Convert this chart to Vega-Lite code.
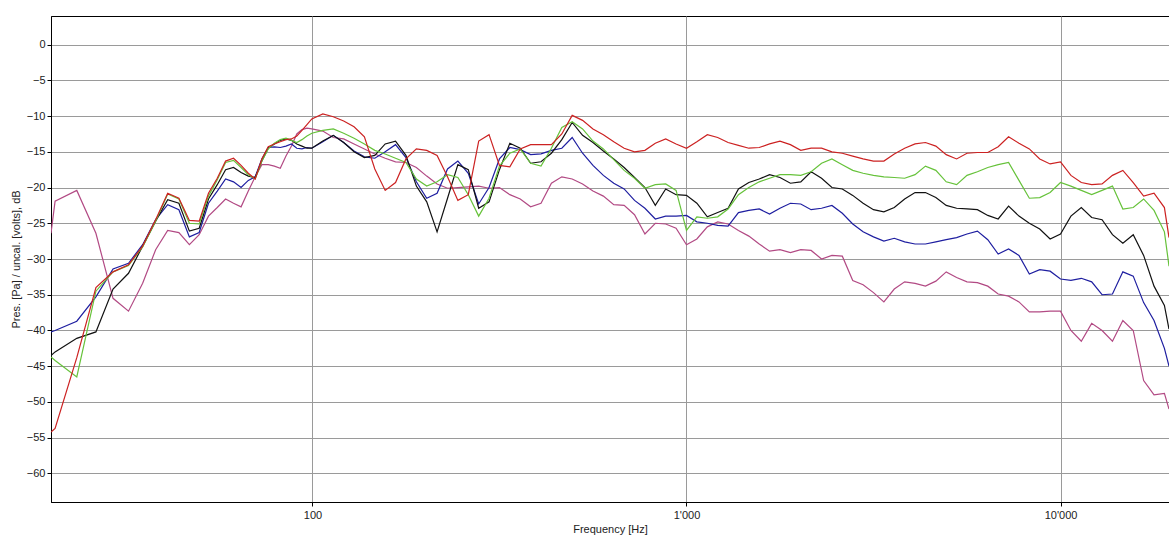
{
  "$schema": "https://vega.github.io/schema/vega-lite/v6.json",
  "width": 1118,
  "height": 486,
  "autosize": {"type": "none"},
  "padding": {"left": 51, "top": 16, "right": 0, "bottom": 37},
  "background": "#ffffff",
  "config": {
    "view": {"stroke": "#000000", "strokeWidth": 1},
    "font": "Liberation Sans"
  },
  "data": {
    "values": [
      {"f": 20, "red": -54.2, "green": -43.7, "black": -43.5, "blue": -40.2, "pink": -26.4},
      {"f": 20.51, "red": -53.7, "green": -44.2, "black": -43.0, "blue": -40.0, "pink": -21.9},
      {"f": 23.44, "red": -43.8, "green": -46.5, "black": -41.1, "blue": -38.7, "pink": -20.4},
      {"f": 26.37, "red": -34.0, "green": -34.5, "black": -40.2, "blue": -35.3, "pink": -26.4},
      {"f": 29.3, "red": -31.8, "green": -31.8, "black": -34.2, "blue": -31.4, "pink": -35.5},
      {"f": 32.23, "red": -30.8, "green": -30.9, "black": -32.0, "blue": -30.6, "pink": -37.3},
      {"f": 35.16, "red": -28.2, "green": -28.3, "black": -28.2, "blue": -28.0, "pink": -33.4},
      {"f": 38.09, "red": -24.5, "green": -24.7, "black": -24.7, "blue": -24.5, "pink": -28.7},
      {"f": 41.02, "red": -20.8, "green": -20.9, "black": -21.7, "blue": -22.4, "pink": -26.0},
      {"f": 43.95, "red": -21.5, "green": -21.6, "black": -22.2, "blue": -23.1, "pink": -26.3},
      {"f": 46.88, "red": -24.6, "green": -25.0, "black": -26.1, "blue": -26.9, "pink": -28.0},
      {"f": 49.8, "red": -24.7, "green": -25.1, "black": -25.7, "blue": -26.3, "pink": -26.6},
      {"f": 52.73, "red": -20.8, "green": -21.2, "black": -21.6, "blue": -22.2, "pink": -24.0},
      {"f": 55.66, "red": -18.7, "green": -18.9, "black": -19.6, "blue": -20.5, "pink": -22.8},
      {"f": 58.59, "red": -16.3, "green": -16.5, "black": -17.5, "blue": -18.8, "pink": -21.6},
      {"f": 61.52, "red": -15.9, "green": -16.2, "black": -17.2, "blue": -19.2, "pink": -22.2},
      {"f": 64.45, "red": -16.9, "green": -17.2, "black": -17.9, "blue": -20.0, "pink": -22.7},
      {"f": 67.38, "red": -18.0, "green": -18.2, "black": -18.4, "blue": -19.0, "pink": -20.5},
      {"f": 70.31, "red": -18.8, "green": -18.8, "black": -18.6, "blue": -18.5, "pink": -18.5},
      {"f": 73.24, "red": -16.0, "green": -16.3, "black": -16.3, "blue": -16.0, "pink": -16.8},
      {"f": 76.17, "red": -14.3, "green": -14.6, "black": -14.5, "blue": -14.4, "pink": -16.8},
      {"f": 79.1, "red": -13.9, "green": -13.8, "black": -13.9, "blue": -14.3, "pink": -17.0},
      {"f": 82.03, "red": -13.6, "green": -13.3, "black": -13.4, "blue": -14.4, "pink": -17.3},
      {"f": 84.96, "red": -13.3, "green": -13.1, "black": -13.2, "blue": -14.2, "pink": -15.6},
      {"f": 87.89, "red": -13.2, "green": -13.4, "black": -13.4, "blue": -13.9, "pink": -14.2},
      {"f": 90.82, "red": -12.8, "green": -13.7, "black": -13.9, "blue": -14.5, "pink": -12.5},
      {"f": 93.75, "red": -12.0, "green": -13.3, "black": -14.2, "blue": -14.6, "pink": -11.9},
      {"f": 96.68, "red": -11.2, "green": -12.8, "black": -14.5, "blue": -14.4, "pink": -11.7},
      {"f": 99.61, "red": -10.4, "green": -12.4, "black": -14.5, "blue": -14.5, "pink": -11.8},
      {"f": 106.6, "red": -9.7, "green": -12.0, "black": -13.5, "blue": -13.6, "pink": -12.1},
      {"f": 113.7, "red": -10.1, "green": -11.8, "black": -12.7, "blue": -12.7, "pink": -13.0},
      {"f": 121.2, "red": -10.7, "green": -12.4, "black": -13.7, "blue": -13.7, "pink": -13.2},
      {"f": 129.2, "red": -11.5, "green": -13.1, "black": -15.0, "blue": -14.9, "pink": -13.9},
      {"f": 137.7, "red": -12.9, "green": -13.9, "black": -15.8, "blue": -15.7, "pink": -14.6},
      {"f": 146.8, "red": -17.4, "green": -14.8, "black": -15.5, "blue": -15.9, "pink": -15.3},
      {"f": 156.5, "red": -20.4, "green": -15.3, "black": -13.9, "blue": -15.0, "pink": -15.9},
      {"f": 166.8, "red": -19.3, "green": -15.9, "black": -13.5, "blue": -14.0, "pink": -16.4},
      {"f": 177.8, "red": -16.0, "green": -16.5, "black": -15.5, "blue": -15.8, "pink": -16.5},
      {"f": 189.6, "red": -14.6, "green": -18.8, "black": -19.8, "blue": -19.2, "pink": -17.2},
      {"f": 202.1, "red": -14.8, "green": -19.8, "black": -22.0, "blue": -21.5, "pink": -18.4},
      {"f": 215.4, "red": -15.5, "green": -19.2, "black": -26.2, "blue": -20.8, "pink": -19.5},
      {"f": 229.7, "red": -18.5, "green": -18.2, "black": -21.5, "blue": -17.4, "pink": -20.1},
      {"f": 244.8, "red": -21.8, "green": -18.6, "black": -16.8, "blue": -16.3, "pink": -20.0},
      {"f": 261.0, "red": -21.0, "green": -21.0, "black": -17.5, "blue": -18.0, "pink": -19.9},
      {"f": 278.3, "red": -13.5, "green": -24.0, "black": -22.9, "blue": -22.3, "pink": -19.8},
      {"f": 296.6, "red": -12.6, "green": -21.5, "black": -22.0, "blue": -20.0, "pink": -20.1},
      {"f": 316.2, "red": -16.9, "green": -17.0, "black": -17.5, "blue": -16.0, "pink": -20.0},
      {"f": 337.1, "red": -17.1, "green": -15.2, "black": -13.8, "blue": -14.4, "pink": -21.0},
      {"f": 359.4, "red": -14.6, "green": -14.6, "black": -14.5, "blue": -14.7, "pink": -21.6},
      {"f": 383.1, "red": -14.0, "green": -16.6, "black": -16.6, "blue": -15.4, "pink": -22.7},
      {"f": 408.4, "red": -14.0, "green": -17.0, "black": -16.4, "blue": -15.3, "pink": -22.2},
      {"f": 435.4, "red": -14.0, "green": -14.5, "black": -15.2, "blue": -14.8, "pink": -19.4},
      {"f": 464.2, "red": -12.5, "green": -11.6, "black": -13.3, "blue": -14.5, "pink": -18.5},
      {"f": 494.8, "red": -9.9, "green": -10.8, "black": -10.9, "blue": -13.0, "pink": -18.8},
      {"f": 527.5, "red": -10.6, "green": -11.8, "black": -12.7, "blue": -15.2, "pink": -19.5},
      {"f": 562.3, "red": -11.8, "green": -13.5, "black": -13.7, "blue": -16.9, "pink": -20.5},
      {"f": 599.5, "red": -12.6, "green": -14.6, "black": -14.9, "blue": -18.3, "pink": -21.2},
      {"f": 639.1, "red": -13.6, "green": -16.1, "black": -16.0, "blue": -19.4, "pink": -22.4},
      {"f": 681.3, "red": -14.5, "green": -17.6, "black": -17.2, "blue": -20.2, "pink": -22.5},
      {"f": 726.3, "red": -15.0, "green": -18.7, "black": -18.6, "blue": -21.8, "pink": -23.8},
      {"f": 774.3, "red": -14.8, "green": -20.1, "black": -20.0, "blue": -22.9, "pink": -26.5},
      {"f": 825.4, "red": -13.8, "green": -19.6, "black": -22.5, "blue": -24.4, "pink": -25.0},
      {"f": 879.9, "red": -13.2, "green": -19.5, "black": -20.2, "blue": -24.0, "pink": -25.1},
      {"f": 938, "red": -13.9, "green": -20.4, "black": -21.0, "blue": -24.0, "pink": -25.7},
      {"f": 1000, "red": -14.5, "green": -26.0, "black": -21.1, "blue": -23.9, "pink": -28.0},
      {"f": 1066, "red": -13.6, "green": -24.1, "black": -22.2, "blue": -24.8, "pink": -27.2},
      {"f": 1137, "red": -12.6, "green": -24.3, "black": -24.1, "blue": -25.0, "pink": -25.5},
      {"f": 1212, "red": -13.0, "green": -24.1, "black": -23.5, "blue": -25.3, "pink": -24.8},
      {"f": 1292, "red": -13.7, "green": -23.0, "black": -22.9, "blue": -25.4, "pink": -25.1},
      {"f": 1377, "red": -14.1, "green": -21.0, "black": -20.2, "blue": -23.5, "pink": -26.0},
      {"f": 1468, "red": -14.5, "green": -20.0, "black": -19.3, "blue": -23.2, "pink": -26.8},
      {"f": 1565, "red": -14.4, "green": -19.2, "black": -18.8, "blue": -23.0, "pink": -27.9},
      {"f": 1668, "red": -13.9, "green": -18.7, "black": -18.2, "blue": -23.7, "pink": -28.9},
      {"f": 1778, "red": -13.5, "green": -18.2, "black": -18.6, "blue": -22.9, "pink": -28.7},
      {"f": 1896, "red": -14.0, "green": -18.2, "black": -19.4, "blue": -22.2, "pink": -29.1},
      {"f": 2021, "red": -14.8, "green": -18.3, "black": -19.2, "blue": -22.3, "pink": -28.7},
      {"f": 2154, "red": -14.5, "green": -17.8, "black": -17.8, "blue": -23.1, "pink": -28.8},
      {"f": 2297, "red": -14.5, "green": -16.6, "black": -18.7, "blue": -22.9, "pink": -30.0},
      {"f": 2448, "red": -15.0, "green": -16.0, "black": -20.0, "blue": -22.5, "pink": -29.5},
      {"f": 2610, "red": -15.2, "green": -16.8, "black": -20.2, "blue": -23.6, "pink": -29.6},
      {"f": 2783, "red": -15.6, "green": -17.6, "black": -21.1, "blue": -25.1, "pink": -33.0},
      {"f": 2966, "red": -16.0, "green": -18.0, "black": -22.2, "blue": -26.2, "pink": -33.6},
      {"f": 3162, "red": -16.3, "green": -18.3, "black": -23.1, "blue": -26.9, "pink": -34.7},
      {"f": 3371, "red": -16.3, "green": -18.5, "black": -23.4, "blue": -27.5, "pink": -36.0},
      {"f": 3594, "red": -15.3, "green": -18.6, "black": -22.8, "blue": -27.1, "pink": -34.2},
      {"f": 3831, "red": -14.5, "green": -18.7, "black": -21.6, "blue": -27.6, "pink": -33.2},
      {"f": 4084, "red": -13.9, "green": -18.2, "black": -20.7, "blue": -27.9, "pink": -33.4},
      {"f": 4354, "red": -13.7, "green": -17.0, "black": -20.7, "blue": -27.9, "pink": -33.8},
      {"f": 4642, "red": -14.2, "green": -17.6, "black": -21.4, "blue": -27.6, "pink": -33.1},
      {"f": 4948, "red": -15.4, "green": -19.2, "black": -22.5, "blue": -27.3, "pink": -31.8},
      {"f": 5275, "red": -16.0, "green": -19.6, "black": -22.9, "blue": -27.0, "pink": -32.6},
      {"f": 5623, "red": -15.2, "green": -18.3, "black": -23.0, "blue": -26.5, "pink": -33.2},
      {"f": 5995, "red": -15.1, "green": -17.8, "black": -23.1, "blue": -26.1, "pink": -33.3},
      {"f": 6391, "red": -15.1, "green": -17.2, "black": -23.9, "blue": -27.3, "pink": -33.8},
      {"f": 6813, "red": -14.3, "green": -16.8, "black": -24.4, "blue": -29.3, "pink": -34.9},
      {"f": 7263, "red": -12.9, "green": -16.5, "black": -22.6, "blue": -28.6, "pink": -35.2},
      {"f": 7743, "red": -13.8, "green": -19.0, "black": -24.0, "blue": -29.5, "pink": -36.0},
      {"f": 8254, "red": -14.6, "green": -21.5, "black": -25.0, "blue": -32.1, "pink": -37.4},
      {"f": 8799, "red": -16.0, "green": -21.4, "black": -25.8, "blue": -31.5, "pink": -37.4},
      {"f": 9380, "red": -16.7, "green": -20.7, "black": -27.2, "blue": -31.7, "pink": -37.3},
      {"f": 10000, "red": -16.4, "green": -19.3, "black": -26.5, "blue": -32.8, "pink": -37.3},
      {"f": 10661, "red": -18.3, "green": -19.8, "black": -24.0, "blue": -33.0, "pink": -40.0},
      {"f": 11365, "red": -19.3, "green": -20.4, "black": -22.8, "blue": -32.7, "pink": -41.5},
      {"f": 12115, "red": -19.6, "green": -21.0, "black": -24.2, "blue": -33.2, "pink": -39.0},
      {"f": 12915, "red": -19.5, "green": -20.4, "black": -24.5, "blue": -35.0, "pink": -40.0},
      {"f": 13768, "red": -18.3, "green": -19.8, "black": -26.6, "blue": -34.9, "pink": -41.5},
      {"f": 14678, "red": -17.6, "green": -23.0, "black": -27.8, "blue": -31.8, "pink": -38.6},
      {"f": 15647, "red": -19.3, "green": -22.8, "black": -26.6, "blue": -32.4, "pink": -40.0},
      {"f": 16681, "red": -21.2, "green": -21.6, "black": -29.5, "blue": -36.1, "pink": -47.0},
      {"f": 17783, "red": -20.8, "green": -23.2, "black": -33.8, "blue": -38.6, "pink": -49.0},
      {"f": 18957, "red": -22.8, "green": -26.2, "black": -36.5, "blue": -42.5, "pink": -48.8},
      {"f": 19500, "red": -27.0, "green": -31.0, "black": -39.8, "blue": -45.0, "pink": -51.0}
    ]
  },
  "transform": [
    {"fold": ["pink", "blue", "black", "green", "red"], "as": ["series", "db"]}
  ],
  "mark": {"type": "line", "strokeWidth": 1.2, "clip": true},
  "encoding": {
    "x": {
      "field": "f",
      "type": "quantitative",
      "scale": {"type": "log", "domain": [20, 19500], "nice": false},
      "axis": {
        "values": [100, 1000, 10000],
        "labelExpr": "datum.value == 1000 ? \"1'000\" : datum.value == 10000 ? \"10'000\" : \"100\"",
        "title": "Frequency [Hz]",
        "grid": true,
        "gridColor": "#9a9a9a",
        "gridWidth": 1,
        "domainColor": "#000000",
        "tickColor": "#000000",
        "tickSize": 4,
        "labelPadding": 3,
        "labelFont": "Liberation Sans",
        "labelFontSize": 11,
        "labelColor": "#222222",
        "titleFont": "Liberation Sans",
        "titleFontSize": 11,
        "titleFontWeight": "normal",
        "titleColor": "#222222",
        "titlePadding": 3
      }
    },
    "y": {
      "field": "db",
      "type": "quantitative",
      "scale": {"domain": [-64, 4], "nice": false, "zero": false},
      "axis": {
        "values": [-60, -55, -50, -45, -40, -35, -30, -25, -20, -15, -10, -5, 0],
        "title": "Pres. [Pa] / uncal. [volts], dB",
        "grid": true,
        "gridColor": "#9a9a9a",
        "gridWidth": 1,
        "domainColor": "#000000",
        "tickColor": "#000000",
        "tickSize": 4,
        "labelPadding": 2,
        "labelFont": "Liberation Sans",
        "labelFontSize": 11,
        "labelColor": "#222222",
        "titleFont": "Liberation Sans",
        "titleFontSize": 11,
        "titleFontWeight": "normal",
        "titleColor": "#222222",
        "titleAngle": -90,
        "titleX": -30,
        "titleY": 243,
        "titleAlign": "center",
        "titleBaseline": "bottom"
      }
    },
    "color": {
      "field": "series",
      "type": "nominal",
      "scale": {
        "domain": ["pink", "blue", "black", "green", "red"],
        "range": ["#b24a84", "#1e1ea0", "#111111", "#66c23a", "#cc2222"]
      },
      "legend": null
    }
  }
}
